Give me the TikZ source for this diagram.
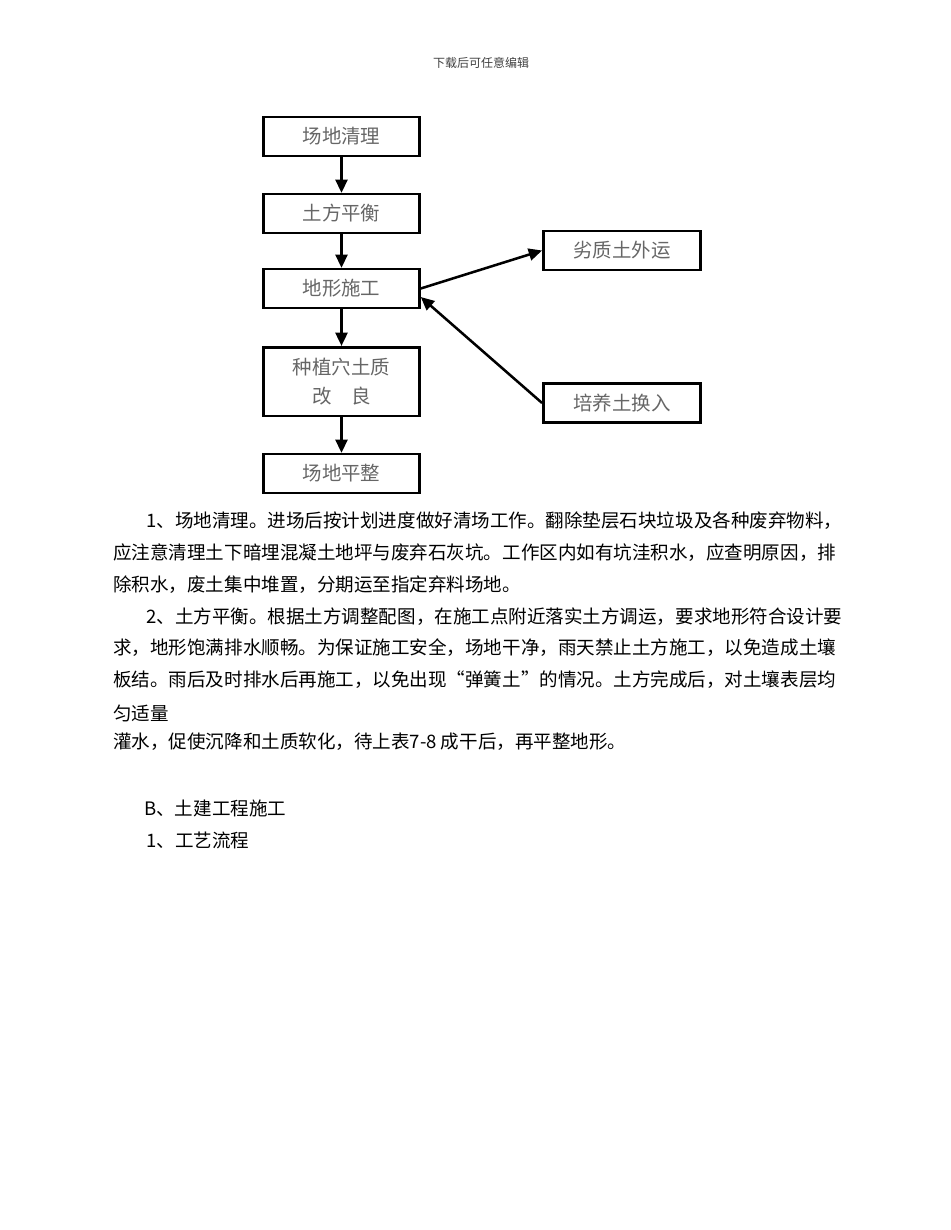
\documentclass[tikz,border=0pt]{standalone}
\usepackage{fontspec}
\setmainfont{Noto Sans CJK SC}
\usetikzlibrary{arrows.meta,positioning}

\begin{document}
\begin{tikzpicture}[
  x=0.75pt, y=-0.75pt,
  >={Triangle[length=10pt,width=9pt]},
  line width=1.9pt,
  stepbox/.style={rectangle, draw=black, line width=1.9pt, minimum width=117pt, minimum height=29pt, inner sep=0pt, text=black!60, font=\fontsize{14.6}{22}\selectfont, align=center},
  bodyline/.style={anchor=west, inner sep=0pt, font=\fontsize{13.9}{24}\selectfont}
]
\useasboundingbox (0,0) rectangle (950,1230);

\node[font=\fontsize{9}{11}\selectfont, text=black!75] (header) at (481,63) {下载后可任意编辑};

% main flow
\node[stepbox] (clear) at (341.5,136.5) {场地清理};
\node[stepbox] (balance) at (341.5,213.5) {土方平衡};
\node[stepbox] (terrain) at (341.5,288.5) {地形施工};
\node[stepbox, minimum height=51.4pt] (improve) at (341.5,381.5) {种植穴土质\\改　良};
\node[stepbox] (level) at (341.5,473.5) {场地平整};

% side boxes
\node[stepbox, minimum width=118pt] (waste) at (622,250.5) {劣质土外运};
\node[stepbox, minimum width=118pt] (refill) at (622,403) {培养土换入};

\draw[->] (clear) -- (balance);
\draw[->] (balance) -- (terrain);
\draw[->] (terrain) -- (improve);
\draw[->] (improve) -- (level);
\draw[->] (terrain.east) -- (waste.west);
\draw[->] (refill.west) -- ([yshift=-6.4pt]terrain.east);

% text below
\node[bodyline] (p1a) at (145,521) {1、场地清理。进场后按计划进度做好清场工作。翻除垫层石块垃圾及各种废弃物料，};
\node[bodyline] (p1b) at (112,553) {应注意清理土下暗埋混凝土地坪与废弃石灰坑。工作区内如有坑洼积水，应查明原因，排};
\node[bodyline] (p1c) at (112,585) {除积水，废土集中堆置，分期运至指定弃料场地。};
\node[bodyline] (p2a) at (145,617) {2、土方平衡。根据土方调整配图，在施工点附近落实土方调运，要求地形符合设计要};
\node[bodyline] (p2b) at (112,648) {求，地形饱满排水顺畅。为保证施工安全，场地干净，雨天禁止土方施工，以免造成土壤};
\node[bodyline] (p2c) at (112,680) {板结。雨后及时排水后再施工，以免出现“弹簧土”的情况。土方完成后，对土壤表层均};
\node[bodyline] (p2d) at (112,713) {匀适量};
\node[bodyline] (p2e) at (112,742) {灌水，促使沉降和土质软化，待上表7-8 成干后，再平整地形。};
\node[bodyline] (secB) at (143,808) {B、土建工程施工};
\node[bodyline] (sec1) at (145,840) {1、工艺流程};

\end{tikzpicture}
\end{document}
